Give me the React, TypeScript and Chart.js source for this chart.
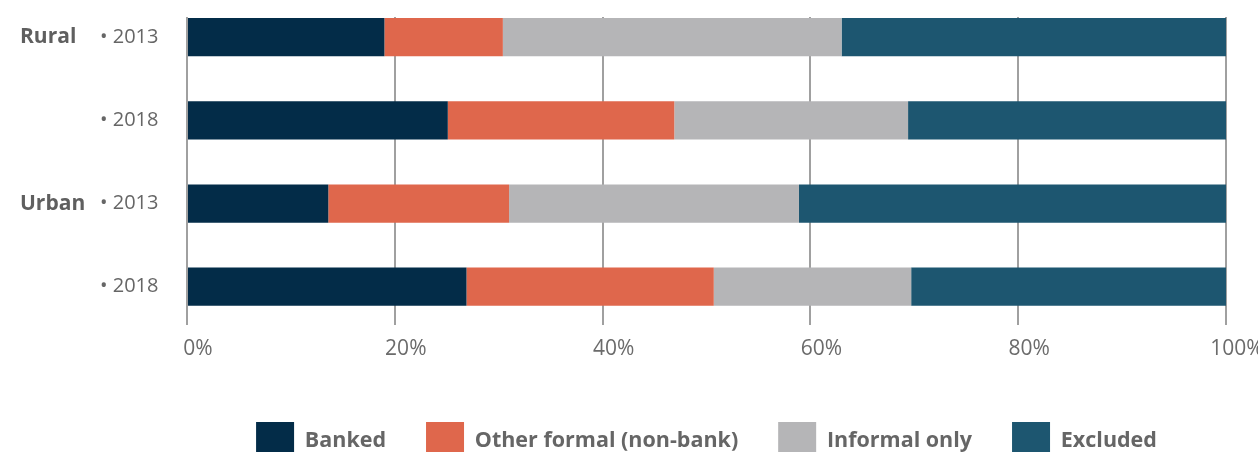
import React, { useEffect, useRef } from "react";
import { Chart, registerables } from "chart.js";

Chart.register(...registerables);

const yearLabels = ["• 2013", "• 2018", "• 2013", "• 2018"];
const groupLabels = ["Rural", "", "Urban", ""];
const xTicks = [0, 20, 40, 60, 80, 100];

const seriesNames = ["Banked", "Other formal (non-bank)", "Informal only", "Excluded"];
const banked = [19.0, 25.1, 13.6, 26.9];
const otherFormal = [11.4, 21.8, 17.4, 23.8];
const informalOnly = [32.6, 22.5, 27.9, 19.0];
const excluded = [37.0, 30.6, 41.1, 30.3];
const seriesColors = ["#032c48", "#df674c", "#b5b5b7", "#1d5670"];

const W = 1258;
const H = 470;

export default function App() {
  const ref = useRef<HTMLCanvasElement | null>(null);

  useEffect(() => {
    if (!ref.current) return;
    const allSeries = [banked, otherFormal, informalOnly, excluded];
    const idx = yearLabels.map((_, i) => i);
    const setTicks = (s: any) => {
      s.ticks = idx.map((v) => ({ value: v }));
    };
    const chart = new Chart(ref.current, {
      type: "bar",
      data: {
        datasets: allSeries.map((vals, k) => ({
          label: seriesNames[k],
          data: vals.map((v, i) => ({ x: v, y: i })),
          backgroundColor: seriesColors[k],
          borderWidth: 0,
          categoryPercentage: 0.46,
          barPercentage: 1,
          yAxisID: "y",
        })),
      },
      options: {
        indexAxis: "y",
        responsive: false,
        animation: false,
        layout: { padding: { left: 20, top: 17, right: 32, bottom: 0 } },
        font: { family: "'Open Sans', sans-serif" },
        color: "#666666",
        scales: {
          x: {
            type: "linear",
            stacked: true,
            min: 0,
            max: 100,
            afterBuildTicks: (s: any) => {
              s.ticks = xTicks.map((v) => ({ value: v }));
            },
            afterFit: (s: any) => {
              s.height = 57;
              s.paddingLeft = 0;
              s.paddingRight = 0;
            },
            ticks: {
              callback: (v: any) => v + "%",
              font: { family: "'Open Sans', sans-serif", size: 21 },
              color: "#6b6b6b",
              padding: 11,
              labelOffset: 11,
              maxRotation: 0,
            },
            grid: { color: "#a0a0a0", lineWidth: 2, drawTicks: false },
            border: { display: false },
          },
          y: {
            type: "linear",
            position: "left",
            stacked: true,
            reverse: true,
            offset: false,
            min: -0.242,
            max: 3.46,
            weight: 0,
            afterBuildTicks: setTicks,
            afterFit: (s: any) => {
              s.width = 87;
              s.paddingTop = 0;
              s.paddingBottom = 0;
            },
            ticks: {
              callback: (v: any) => yearLabels[v] ?? "",
              font: { family: "'Open Sans', sans-serif", size: 20 },
              color: "#666666",
              crossAlign: "far",
              padding: 0,
            },
            grid: { display: false, drawTicks: false, offset: false },
            border: { display: false },
          },
          yg: {
            type: "linear",
            position: "left",
            reverse: true,
            offset: false,
            min: -0.242,
            max: 3.46,
            weight: 1,
            afterBuildTicks: setTicks,
            afterFit: (s: any) => {
              s.width = 80;
              s.paddingTop = 0;
              s.paddingBottom = 0;
            },
            ticks: {
              callback: (v: any) => groupLabels[v] ?? "",
              font: { family: "'Open Sans', sans-serif", size: 21, weight: "bold" },
              color: "#5f5f5f",
              crossAlign: "far",
              padding: 0,
            },
            grid: { display: false, drawTicks: false, offset: false },
            border: { display: false },
          },
        },
        plugins: {
          legend: {
            position: "bottom",
            fullSize: false,
            labels: {
              boxWidth: 38,
              boxHeight: 38,
              padding: 40,
              color: "#666666",
              font: { family: "'Open Sans', sans-serif", size: 21.5, weight: "bold" },
            },
          },
          tooltip: { enabled: false },
        },
      } as any,
    });
    return () => chart.destroy();
  }, []);

  return (
    <div
      style={{
        position: "fixed",
        left: 0,
        top: 0,
        width: W,
        height: 452,
        overflow: "hidden",
        background: "#ffffff",
      }}
    >
      <canvas ref={ref} width={W} height={H} style={{ width: W, height: H, display: "block" }} />
    </div>
  );
}
